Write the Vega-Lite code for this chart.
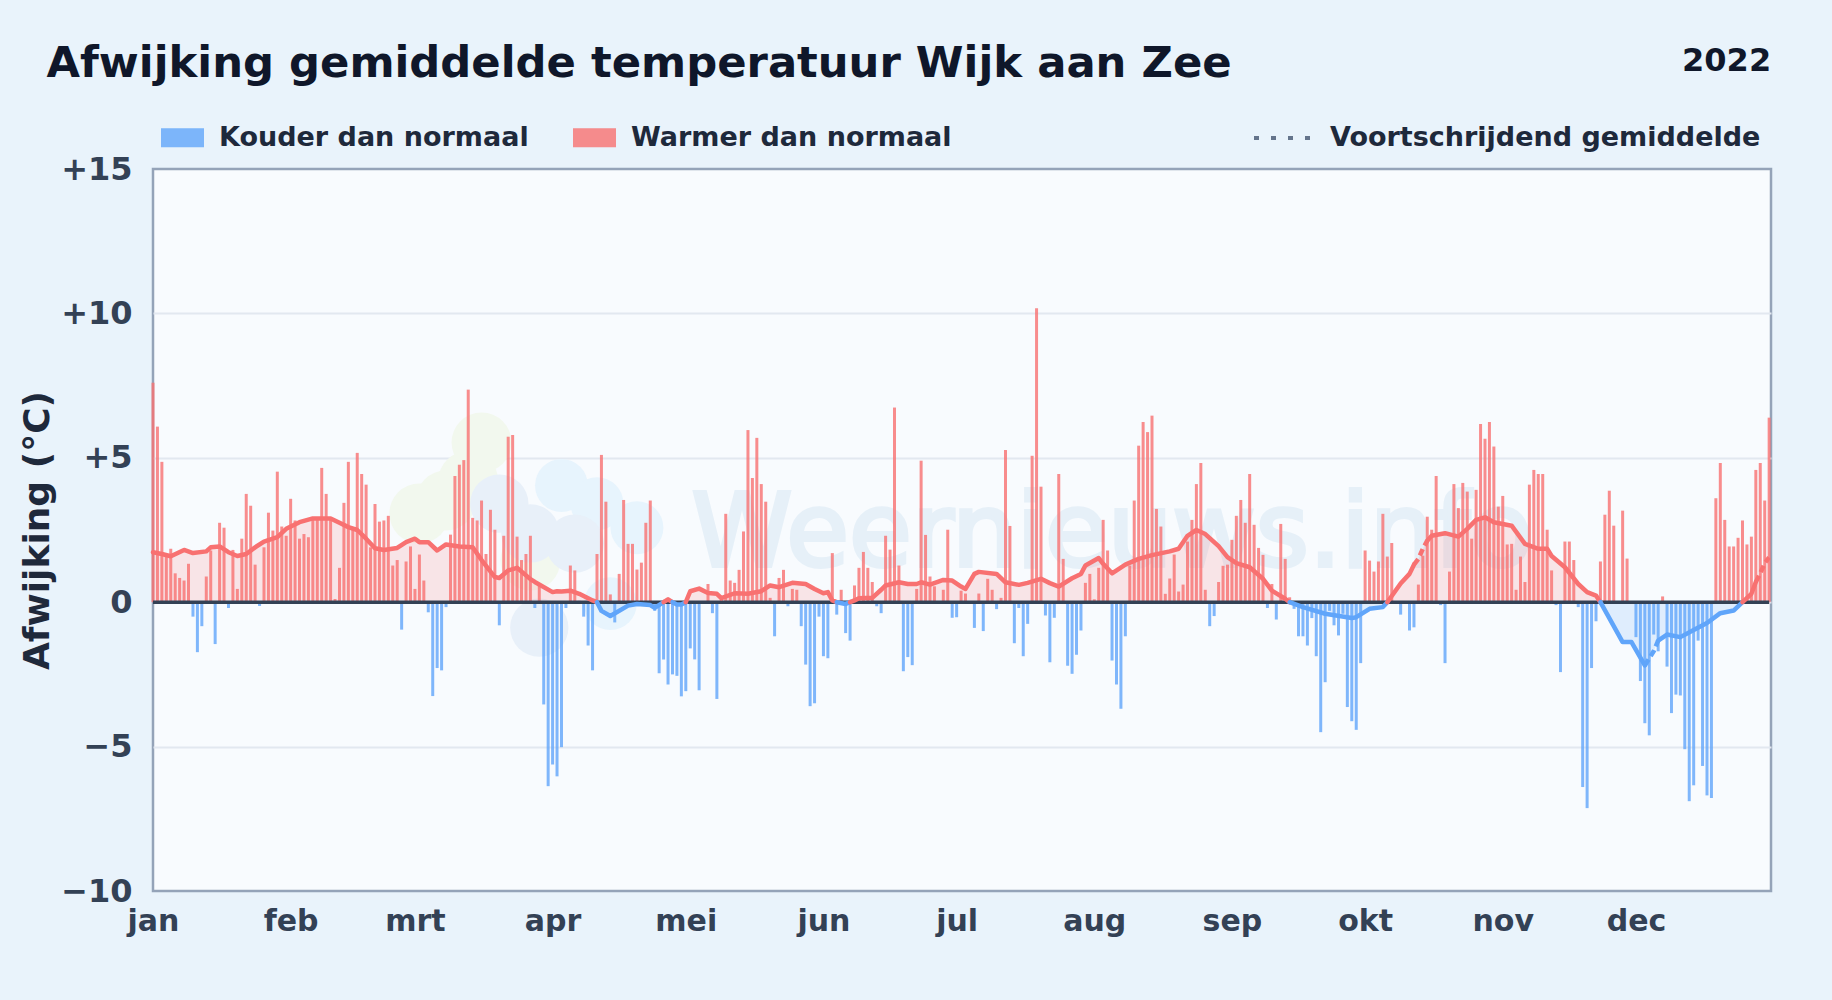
{
"$schema":"https://vega.github.io/schema/vega-lite/v6.json",
"width":1618,"height":722,
"autosize":{"type":"none"},
"padding":{"left":153,"top":169,"right":61,"bottom":109},
"background":"#e9f3fb",
"config":{"font":"DejaVu Sans","view":{"fill":"#f8fbfe","stroke":"#94a3b8","strokeWidth":2.5}},
"title":{"text":"Afwijking gemiddelde temperatuur Wijk aan Zee","anchor":"start","frame":"group","dx":-106.5,"offset":0,"dy":75,"baseline":"alphabetic","fontSize":43.3,"fontWeight":"bold","color":"#0f172a"},
"datasets":{
"dag":[
{"d":"2022-01-01","v":7.6,"s":"warm"},{"d":"2022-01-02","v":6.08,"s":"warm"},{"d":"2022-01-03","v":4.86,"s":"warm"},{"d":"2022-01-04","v":1.67,"s":"warm"},{"d":"2022-01-05","v":1.85,"s":"warm"},{"d":"2022-01-06","v":1.0,"s":"warm"},{"d":"2022-01-07","v":0.84,"s":"warm"},{"d":"2022-01-08","v":0.75,"s":"warm"},{"d":"2022-01-09","v":1.33,"s":"warm"},{"d":"2022-01-10","v":-0.5,"s":"koud"},{"d":"2022-01-11","v":-1.73,"s":"koud"},{"d":"2022-01-12","v":-0.83,"s":"koud"},{"d":"2022-01-13","v":0.89,"s":"warm"},{"d":"2022-01-14","v":1.79,"s":"warm"},{"d":"2022-01-15","v":-1.45,"s":"koud"},{"d":"2022-01-16","v":2.75,"s":"warm"},{"d":"2022-01-17","v":2.58,"s":"warm"},{"d":"2022-01-18","v":-0.2,"s":"koud"},{"d":"2022-01-19","v":1.81,"s":"warm"},{"d":"2022-01-20","v":0.46,"s":"warm"},{"d":"2022-01-21","v":2.2,"s":"warm"},{"d":"2022-01-22","v":3.75,"s":"warm"},{"d":"2022-01-23","v":3.34,"s":"warm"},{"d":"2022-01-24","v":1.3,"s":"warm"},{"d":"2022-01-25","v":-0.13,"s":"koud"},{"d":"2022-01-26","v":1.9,"s":"warm"},{"d":"2022-01-27","v":3.1,"s":"warm"},{"d":"2022-01-28","v":2.48,"s":"warm"},{"d":"2022-01-29","v":4.52,"s":"warm"},{"d":"2022-01-30","v":2.62,"s":"warm"},{"d":"2022-01-31","v":2.3,"s":"warm"},
{"d":"2022-02-01","v":3.58,"s":"warm"},{"d":"2022-02-02","v":2.83,"s":"warm"},{"d":"2022-02-03","v":2.2,"s":"warm"},{"d":"2022-02-04","v":2.36,"s":"warm"},{"d":"2022-02-05","v":2.25,"s":"warm"},{"d":"2022-02-06","v":2.88,"s":"warm"},{"d":"2022-02-07","v":2.85,"s":"warm"},{"d":"2022-02-08","v":4.65,"s":"warm"},{"d":"2022-02-09","v":3.75,"s":"warm"},{"d":"2022-02-10","v":2.9,"s":"warm"},{"d":"2022-02-11","v":0.11,"s":"warm"},{"d":"2022-02-12","v":1.19,"s":"warm"},{"d":"2022-02-13","v":3.44,"s":"warm"},{"d":"2022-02-14","v":4.86,"s":"warm"},{"d":"2022-02-15","v":2.54,"s":"warm"},{"d":"2022-02-16","v":5.17,"s":"warm"},{"d":"2022-02-17","v":4.44,"s":"warm"},{"d":"2022-02-18","v":4.07,"s":"warm"},{"d":"2022-02-19","v":1.9,"s":"warm"},{"d":"2022-02-20","v":3.4,"s":"warm"},{"d":"2022-02-21","v":2.79,"s":"warm"},{"d":"2022-02-22","v":2.83,"s":"warm"},{"d":"2022-02-23","v":2.99,"s":"warm"},{"d":"2022-02-24","v":1.27,"s":"warm"},{"d":"2022-02-25","v":1.46,"s":"warm"},{"d":"2022-02-26","v":-0.95,"s":"koud"},{"d":"2022-02-27","v":1.41,"s":"warm"},{"d":"2022-02-28","v":1.93,"s":"warm"},
{"d":"2022-03-01","v":0.46,"s":"warm"},{"d":"2022-03-02","v":1.65,"s":"warm"},{"d":"2022-03-03","v":0.75,"s":"warm"},{"d":"2022-03-04","v":-0.35,"s":"koud"},{"d":"2022-03-05","v":-3.25,"s":"koud"},{"d":"2022-03-06","v":-2.28,"s":"koud"},{"d":"2022-03-07","v":-2.36,"s":"koud"},{"d":"2022-03-08","v":-0.17,"s":"koud"},{"d":"2022-03-09","v":2.34,"s":"warm"},{"d":"2022-03-10","v":4.37,"s":"warm"},{"d":"2022-03-11","v":4.76,"s":"warm"},{"d":"2022-03-12","v":4.92,"s":"warm"},{"d":"2022-03-13","v":7.36,"s":"warm"},{"d":"2022-03-14","v":2.92,"s":"warm"},{"d":"2022-03-15","v":2.83,"s":"warm"},{"d":"2022-03-16","v":3.52,"s":"warm"},{"d":"2022-03-17","v":1.67,"s":"warm"},{"d":"2022-03-18","v":3.2,"s":"warm"},{"d":"2022-03-19","v":2.51,"s":"warm"},{"d":"2022-03-20","v":-0.8,"s":"koud"},{"d":"2022-03-21","v":2.3,"s":"warm"},{"d":"2022-03-22","v":5.73,"s":"warm"},{"d":"2022-03-23","v":5.79,"s":"warm"},{"d":"2022-03-24","v":2.27,"s":"warm"},{"d":"2022-03-25","v":1.46,"s":"warm"},{"d":"2022-03-26","v":1.67,"s":"warm"},{"d":"2022-03-27","v":2.3,"s":"warm"},{"d":"2022-03-28","v":-0.2,"s":"koud"},{"d":"2022-03-29","v":0.63,"s":"warm"},{"d":"2022-03-30","v":-3.54,"s":"koud"},{"d":"2022-03-31","v":-6.37,"s":"koud"},
{"d":"2022-04-01","v":-5.62,"s":"koud"},{"d":"2022-04-02","v":-6.03,"s":"koud"},{"d":"2022-04-03","v":-5.02,"s":"koud"},{"d":"2022-04-04","v":-0.2,"s":"koud"},{"d":"2022-04-05","v":1.27,"s":"warm"},{"d":"2022-04-06","v":1.1,"s":"warm"},{"d":"2022-04-07","v":0.05,"s":"warm"},{"d":"2022-04-08","v":-0.5,"s":"koud"},{"d":"2022-04-09","v":-1.5,"s":"koud"},{"d":"2022-04-10","v":-2.36,"s":"koud"},{"d":"2022-04-11","v":1.67,"s":"warm"},{"d":"2022-04-12","v":5.1,"s":"warm"},{"d":"2022-04-13","v":3.48,"s":"warm"},{"d":"2022-04-14","v":0.27,"s":"warm"},{"d":"2022-04-15","v":-0.7,"s":"koud"},{"d":"2022-04-16","v":0.98,"s":"warm"},{"d":"2022-04-17","v":3.54,"s":"warm"},{"d":"2022-04-18","v":2.02,"s":"warm"},{"d":"2022-04-19","v":2.02,"s":"warm"},{"d":"2022-04-20","v":1.13,"s":"warm"},{"d":"2022-04-21","v":1.37,"s":"warm"},{"d":"2022-04-22","v":2.75,"s":"warm"},{"d":"2022-04-23","v":3.52,"s":"warm"},{"d":"2022-04-24","v":-0.3,"s":"koud"},{"d":"2022-04-25","v":-2.46,"s":"koud"},{"d":"2022-04-26","v":-1.98,"s":"koud"},{"d":"2022-04-27","v":-2.85,"s":"koud"},{"d":"2022-04-28","v":-2.5,"s":"koud"},{"d":"2022-04-29","v":-2.55,"s":"koud"},{"d":"2022-04-30","v":-3.26,"s":"koud"},
{"d":"2022-05-01","v":-3.08,"s":"koud"},{"d":"2022-05-02","v":-1.6,"s":"koud"},{"d":"2022-05-03","v":-1.98,"s":"koud"},{"d":"2022-05-04","v":-3.05,"s":"koud"},{"d":"2022-05-06","v":0.63,"s":"warm"},{"d":"2022-05-07","v":-0.38,"s":"koud"},{"d":"2022-05-08","v":-3.35,"s":"koud"},{"d":"2022-05-09","v":0.1,"s":"warm"},{"d":"2022-05-10","v":3.06,"s":"warm"},{"d":"2022-05-11","v":0.75,"s":"warm"},{"d":"2022-05-12","v":0.67,"s":"warm"},{"d":"2022-05-13","v":1.12,"s":"warm"},{"d":"2022-05-14","v":2.45,"s":"warm"},{"d":"2022-05-15","v":5.96,"s":"warm"},{"d":"2022-05-16","v":4.3,"s":"warm"},{"d":"2022-05-17","v":5.69,"s":"warm"},{"d":"2022-05-18","v":4.09,"s":"warm"},{"d":"2022-05-19","v":3.48,"s":"warm"},{"d":"2022-05-20","v":0.15,"s":"warm"},{"d":"2022-05-21","v":-1.18,"s":"koud"},{"d":"2022-05-22","v":0.84,"s":"warm"},{"d":"2022-05-23","v":1.12,"s":"warm"},{"d":"2022-05-24","v":-0.14,"s":"koud"},{"d":"2022-05-25","v":0.46,"s":"warm"},{"d":"2022-05-26","v":0.43,"s":"warm"},{"d":"2022-05-27","v":-0.83,"s":"koud"},{"d":"2022-05-28","v":-2.16,"s":"koud"},{"d":"2022-05-29","v":-3.6,"s":"koud"},{"d":"2022-05-30","v":-3.5,"s":"koud"},{"d":"2022-05-31","v":-0.5,"s":"koud"},
{"d":"2022-06-01","v":-1.87,"s":"koud"},{"d":"2022-06-02","v":-1.94,"s":"koud"},{"d":"2022-06-03","v":1.7,"s":"warm"},{"d":"2022-06-04","v":-0.43,"s":"koud"},{"d":"2022-06-05","v":0.43,"s":"warm"},{"d":"2022-06-06","v":-1.07,"s":"koud"},{"d":"2022-06-07","v":-1.33,"s":"koud"},{"d":"2022-06-08","v":0.58,"s":"warm"},{"d":"2022-06-09","v":1.19,"s":"warm"},{"d":"2022-06-10","v":1.74,"s":"warm"},{"d":"2022-06-11","v":1.19,"s":"warm"},{"d":"2022-06-12","v":0.7,"s":"warm"},{"d":"2022-06-13","v":-0.14,"s":"koud"},{"d":"2022-06-14","v":-0.38,"s":"koud"},{"d":"2022-06-15","v":2.3,"s":"warm"},{"d":"2022-06-16","v":1.82,"s":"warm"},{"d":"2022-06-17","v":6.74,"s":"warm"},{"d":"2022-06-18","v":1.27,"s":"warm"},{"d":"2022-06-19","v":-2.39,"s":"koud"},{"d":"2022-06-20","v":-1.9,"s":"koud"},{"d":"2022-06-21","v":-2.18,"s":"koud"},{"d":"2022-06-22","v":0.46,"s":"warm"},{"d":"2022-06-23","v":4.9,"s":"warm"},{"d":"2022-06-24","v":2.33,"s":"warm"},{"d":"2022-06-25","v":0.89,"s":"warm"},{"d":"2022-06-26","v":0.55,"s":"warm"},{"d":"2022-06-28","v":0.43,"s":"warm"},{"d":"2022-06-29","v":2.51,"s":"warm"},{"d":"2022-06-30","v":-0.54,"s":"koud"},
{"d":"2022-07-01","v":-0.52,"s":"koud"},{"d":"2022-07-02","v":0.4,"s":"warm"},{"d":"2022-07-03","v":0.3,"s":"warm"},{"d":"2022-07-05","v":-0.89,"s":"koud"},{"d":"2022-07-06","v":0.3,"s":"warm"},{"d":"2022-07-07","v":-1.0,"s":"koud"},{"d":"2022-07-08","v":0.81,"s":"warm"},{"d":"2022-07-09","v":0.43,"s":"warm"},{"d":"2022-07-10","v":-0.24,"s":"koud"},{"d":"2022-07-11","v":0.15,"s":"warm"},{"d":"2022-07-12","v":5.27,"s":"warm"},{"d":"2022-07-13","v":2.64,"s":"warm"},{"d":"2022-07-14","v":-1.42,"s":"koud"},{"d":"2022-07-15","v":-0.2,"s":"koud"},{"d":"2022-07-16","v":-1.87,"s":"koud"},{"d":"2022-07-17","v":-0.75,"s":"koud"},{"d":"2022-07-18","v":5.07,"s":"warm"},{"d":"2022-07-19","v":10.18,"s":"warm"},{"d":"2022-07-20","v":4.0,"s":"warm"},{"d":"2022-07-21","v":-0.46,"s":"koud"},{"d":"2022-07-22","v":-2.08,"s":"koud"},{"d":"2022-07-23","v":-0.54,"s":"koud"},{"d":"2022-07-24","v":4.44,"s":"warm"},{"d":"2022-07-25","v":1.5,"s":"warm"},{"d":"2022-07-26","v":-2.2,"s":"koud"},{"d":"2022-07-27","v":-2.48,"s":"koud"},{"d":"2022-07-28","v":-1.82,"s":"koud"},{"d":"2022-07-29","v":-0.98,"s":"koud"},{"d":"2022-07-30","v":0.67,"s":"warm"},{"d":"2022-07-31","v":0.98,"s":"warm"},
{"d":"2022-08-01","v":0.1,"s":"warm"},{"d":"2022-08-02","v":1.19,"s":"warm"},{"d":"2022-08-03","v":2.85,"s":"warm"},{"d":"2022-08-04","v":1.79,"s":"warm"},{"d":"2022-08-05","v":-2.02,"s":"koud"},{"d":"2022-08-06","v":-2.85,"s":"koud"},{"d":"2022-08-07","v":-3.69,"s":"koud"},{"d":"2022-08-08","v":-1.18,"s":"koud"},{"d":"2022-08-09","v":1.27,"s":"warm"},{"d":"2022-08-10","v":3.52,"s":"warm"},{"d":"2022-08-11","v":5.42,"s":"warm"},{"d":"2022-08-12","v":6.24,"s":"warm"},{"d":"2022-08-13","v":5.89,"s":"warm"},{"d":"2022-08-14","v":6.46,"s":"warm"},{"d":"2022-08-15","v":3.23,"s":"warm"},{"d":"2022-08-16","v":2.62,"s":"warm"},{"d":"2022-08-17","v":0.29,"s":"warm"},{"d":"2022-08-18","v":0.82,"s":"warm"},{"d":"2022-08-19","v":1.65,"s":"warm"},{"d":"2022-08-20","v":0.37,"s":"warm"},{"d":"2022-08-21","v":0.61,"s":"warm"},{"d":"2022-08-22","v":2.1,"s":"warm"},{"d":"2022-08-23","v":2.85,"s":"warm"},{"d":"2022-08-24","v":4.09,"s":"warm"},{"d":"2022-08-25","v":4.82,"s":"warm"},{"d":"2022-08-26","v":0.43,"s":"warm"},{"d":"2022-08-27","v":-0.83,"s":"koud"},{"d":"2022-08-28","v":-0.48,"s":"koud"},{"d":"2022-08-29","v":0.7,"s":"warm"},{"d":"2022-08-30","v":1.26,"s":"warm"},{"d":"2022-08-31","v":1.3,"s":"warm"},
{"d":"2022-09-01","v":2.16,"s":"warm"},{"d":"2022-09-02","v":2.99,"s":"warm"},{"d":"2022-09-03","v":3.54,"s":"warm"},{"d":"2022-09-04","v":2.75,"s":"warm"},{"d":"2022-09-05","v":4.44,"s":"warm"},{"d":"2022-09-06","v":2.68,"s":"warm"},{"d":"2022-09-07","v":1.88,"s":"warm"},{"d":"2022-09-08","v":1.64,"s":"warm"},{"d":"2022-09-09","v":-0.2,"s":"koud"},{"d":"2022-09-10","v":0.63,"s":"warm"},{"d":"2022-09-11","v":-0.6,"s":"koud"},{"d":"2022-09-12","v":2.71,"s":"warm"},{"d":"2022-09-13","v":1.5,"s":"warm"},{"d":"2022-09-14","v":0.17,"s":"warm"},{"d":"2022-09-15","v":-0.23,"s":"koud"},{"d":"2022-09-16","v":-1.18,"s":"koud"},{"d":"2022-09-17","v":-1.18,"s":"koud"},{"d":"2022-09-18","v":-1.5,"s":"koud"},{"d":"2022-09-19","v":-0.55,"s":"koud"},{"d":"2022-09-20","v":-1.87,"s":"koud"},{"d":"2022-09-21","v":-4.5,"s":"koud"},{"d":"2022-09-22","v":-2.77,"s":"koud"},{"d":"2022-09-23","v":-0.3,"s":"koud"},{"d":"2022-09-24","v":-0.8,"s":"koud"},{"d":"2022-09-25","v":-1.15,"s":"koud"},{"d":"2022-09-26","v":-0.4,"s":"koud"},{"d":"2022-09-27","v":-3.63,"s":"koud"},{"d":"2022-09-28","v":-4.12,"s":"koud"},{"d":"2022-09-29","v":-4.42,"s":"koud"},{"d":"2022-09-30","v":-2.11,"s":"koud"},
{"d":"2022-10-01","v":1.79,"s":"warm"},{"d":"2022-10-02","v":1.44,"s":"warm"},{"d":"2022-10-03","v":1.06,"s":"warm"},{"d":"2022-10-04","v":1.41,"s":"warm"},{"d":"2022-10-05","v":3.06,"s":"warm"},{"d":"2022-10-06","v":1.58,"s":"warm"},{"d":"2022-10-07","v":2.05,"s":"warm"},{"d":"2022-10-09","v":-0.43,"s":"koud"},{"d":"2022-10-11","v":-0.98,"s":"koud"},{"d":"2022-10-12","v":-0.87,"s":"koud"},{"d":"2022-10-13","v":0.61,"s":"warm"},{"d":"2022-10-14","v":1.61,"s":"warm"},{"d":"2022-10-15","v":2.96,"s":"warm"},{"d":"2022-10-16","v":2.51,"s":"warm"},{"d":"2022-10-17","v":4.37,"s":"warm"},{"d":"2022-10-18","v":-0.1,"s":"koud"},{"d":"2022-10-19","v":-2.11,"s":"koud"},{"d":"2022-10-20","v":1.06,"s":"warm"},{"d":"2022-10-21","v":4.09,"s":"warm"},{"d":"2022-10-22","v":3.26,"s":"warm"},{"d":"2022-10-23","v":4.13,"s":"warm"},{"d":"2022-10-24","v":3.83,"s":"warm"},{"d":"2022-10-25","v":2.2,"s":"warm"},{"d":"2022-10-26","v":3.89,"s":"warm"},{"d":"2022-10-27","v":6.17,"s":"warm"},{"d":"2022-10-28","v":5.66,"s":"warm"},{"d":"2022-10-29","v":6.24,"s":"warm"},{"d":"2022-10-30","v":5.39,"s":"warm"},{"d":"2022-10-31","v":3.31,"s":"warm"},
{"d":"2022-11-01","v":3.68,"s":"warm"},{"d":"2022-11-02","v":2.0,"s":"warm"},{"d":"2022-11-03","v":2.02,"s":"warm"},{"d":"2022-11-04","v":0.43,"s":"warm"},{"d":"2022-11-05","v":1.58,"s":"warm"},{"d":"2022-11-06","v":0.7,"s":"warm"},{"d":"2022-11-07","v":4.07,"s":"warm"},{"d":"2022-11-08","v":4.58,"s":"warm"},{"d":"2022-11-09","v":4.44,"s":"warm"},{"d":"2022-11-10","v":4.44,"s":"warm"},{"d":"2022-11-11","v":2.51,"s":"warm"},{"d":"2022-11-12","v":1.1,"s":"warm"},{"d":"2022-11-13","v":-0.1,"s":"koud"},{"d":"2022-11-14","v":-2.42,"s":"koud"},{"d":"2022-11-15","v":2.1,"s":"warm"},{"d":"2022-11-16","v":2.1,"s":"warm"},{"d":"2022-11-17","v":1.46,"s":"warm"},{"d":"2022-11-18","v":-0.17,"s":"koud"},{"d":"2022-11-19","v":-6.4,"s":"koud"},{"d":"2022-11-20","v":-7.13,"s":"koud"},{"d":"2022-11-21","v":-2.28,"s":"koud"},{"d":"2022-11-22","v":-0.66,"s":"koud"},{"d":"2022-11-23","v":1.41,"s":"warm"},{"d":"2022-11-24","v":3.03,"s":"warm"},{"d":"2022-11-25","v":3.86,"s":"warm"},{"d":"2022-11-26","v":2.65,"s":"warm"},{"d":"2022-11-28","v":3.17,"s":"warm"},{"d":"2022-11-29","v":1.51,"s":"warm"},
{"d":"2022-12-01","v":-1.21,"s":"koud"},{"d":"2022-12-02","v":-2.73,"s":"koud"},{"d":"2022-12-03","v":-4.19,"s":"koud"},{"d":"2022-12-04","v":-4.61,"s":"koud"},{"d":"2022-12-05","v":-1.12,"s":"koud"},{"d":"2022-12-06","v":-1.7,"s":"koud"},{"d":"2022-12-07","v":0.2,"s":"warm"},{"d":"2022-12-08","v":-2.23,"s":"koud"},{"d":"2022-12-09","v":-3.84,"s":"koud"},{"d":"2022-12-10","v":-3.2,"s":"koud"},{"d":"2022-12-11","v":-3.23,"s":"koud"},{"d":"2022-12-12","v":-5.09,"s":"koud"},{"d":"2022-12-13","v":-6.89,"s":"koud"},{"d":"2022-12-14","v":-6.34,"s":"koud"},{"d":"2022-12-15","v":-1.33,"s":"koud"},{"d":"2022-12-16","v":-5.67,"s":"koud"},{"d":"2022-12-17","v":-6.69,"s":"koud"},{"d":"2022-12-18","v":-6.78,"s":"koud"},{"d":"2022-12-19","v":3.6,"s":"warm"},{"d":"2022-12-20","v":4.82,"s":"warm"},{"d":"2022-12-21","v":2.85,"s":"warm"},{"d":"2022-12-22","v":1.93,"s":"warm"},{"d":"2022-12-23","v":1.93,"s":"warm"},{"d":"2022-12-24","v":2.23,"s":"warm"},{"d":"2022-12-25","v":2.83,"s":"warm"},{"d":"2022-12-26","v":2.0,"s":"warm"},{"d":"2022-12-27","v":2.27,"s":"warm"},{"d":"2022-12-28","v":4.58,"s":"warm"},{"d":"2022-12-29","v":4.82,"s":"warm"},{"d":"2022-12-30","v":3.52,"s":"warm"},{"d":"2022-12-31","v":6.39,"s":"warm"}
],
"gem":[
{"d":"2022-01-01","g":1.73,"s":"warm","seg":1,"st":"vol"},{"d":"2022-01-03","g":1.67,"s":"warm","seg":1,"st":"vol"},{"d":"2022-01-05","g":1.59,"s":"warm","seg":1,"st":"vol"},{"d":"2022-01-08","g":1.81,"s":"warm","seg":1,"st":"vol"},{"d":"2022-01-10","g":1.7,"s":"warm","seg":1,"st":"vol"},{"d":"2022-01-13","g":1.76,"s":"warm","seg":1,"st":"vol"},{"d":"2022-01-14","g":1.9,"s":"warm","seg":1,"st":"vol"},{"d":"2022-01-16","g":1.93,"s":"warm","seg":1,"st":"vol"},{"d":"2022-01-18","g":1.73,"s":"warm","seg":1,"st":"vol"},{"d":"2022-01-20","g":1.6,"s":"warm","seg":1,"st":"vol"},{"d":"2022-01-22","g":1.67,"s":"warm","seg":1,"st":"vol"},{"d":"2022-01-24","g":1.9,"s":"warm","seg":1,"st":"vol"},{"d":"2022-01-26","g":2.1,"s":"warm","seg":1,"st":"vol"},{"d":"2022-01-29","g":2.25,"s":"warm","seg":1,"st":"vol"},{"d":"2022-01-31","g":2.54,"s":"warm","seg":1,"st":"vol"},{"d":"2022-02-03","g":2.77,"s":"warm","seg":1,"st":"vol"},{"d":"2022-02-06","g":2.9,"s":"warm","seg":1,"st":"vol"},{"d":"2022-02-10","g":2.9,"s":"warm","seg":1,"st":"vol"},{"d":"2022-02-12","g":2.75,"s":"warm","seg":1,"st":"vol"},{"d":"2022-02-14","g":2.6,"s":"warm","seg":1,"st":"vol"},{"d":"2022-02-16","g":2.5,"s":"warm","seg":1,"st":"vol"},{"d":"2022-02-18","g":2.2,"s":"warm","seg":1,"st":"vol"},{"d":"2022-02-20","g":1.87,"s":"warm","seg":1,"st":"vol"},{"d":"2022-02-22","g":1.81,"s":"warm","seg":1,"st":"vol"},{"d":"2022-02-25","g":1.88,"s":"warm","seg":1,"st":"vol"},{"d":"2022-02-27","g":2.08,"s":"warm","seg":1,"st":"vol"},{"d":"2022-03-01","g":2.2,"s":"warm","seg":1,"st":"vol"},{"d":"2022-03-02","g":2.08,"s":"warm","seg":1,"st":"vol"},{"d":"2022-03-04","g":2.08,"s":"warm","seg":1,"st":"vol"},{"d":"2022-03-06","g":1.79,"s":"warm","seg":1,"st":"vol"},{"d":"2022-03-08","g":2.0,"s":"warm","seg":1,"st":"vol"},{"d":"2022-03-11","g":1.93,"s":"warm","seg":1,"st":"vol"},{"d":"2022-03-14","g":1.9,"s":"warm","seg":1,"st":"vol"},{"d":"2022-03-16","g":1.46,"s":"warm","seg":1,"st":"vol"},{"d":"2022-03-19","g":0.87,"s":"warm","seg":1,"st":"vol"},{"d":"2022-03-20","g":0.84,"s":"warm","seg":1,"st":"vol"},{"d":"2022-03-22","g":1.1,"s":"warm","seg":1,"st":"vol"},{"d":"2022-03-24","g":1.19,"s":"warm","seg":1,"st":"vol"},{"d":"2022-03-27","g":0.8,"s":"warm","seg":1,"st":"vol"},{"d":"2022-03-28","g":0.7,"s":"warm","seg":1,"st":"vol"},{"d":"2022-04-01","g":0.35,"s":"warm","seg":1,"st":"vol"},{"d":"2022-04-02","g":0.38,"s":"warm","seg":1,"st":"vol"},{"d":"2022-04-03","g":0.37,"s":"warm","seg":1,"st":"vol"},{"d":"2022-04-05","g":0.4,"s":"warm","seg":1,"st":"vol"},{"d":"2022-04-07","g":0.29,"s":"warm","seg":1,"st":"vol"},{"d":"2022-04-10","g":0.06,"s":"warm","seg":1,"st":"vol"},{"d":"2022-04-11","g":0,"s":"warm","seg":1,"st":"vol"},
{"d":"2022-04-11","g":0,"s":"koud","seg":2,"st":"vol"},{"d":"2022-04-12","g":-0.3,"s":"koud","seg":2,"st":"vol"},{"d":"2022-04-14","g":-0.48,"s":"koud","seg":2,"st":"vol"},{"d":"2022-04-18","g":-0.12,"s":"koud","seg":2,"st":"vol"},{"d":"2022-04-20","g":-0.06,"s":"koud","seg":2,"st":"vol"},{"d":"2022-04-23","g":-0.1,"s":"koud","seg":2,"st":"vol"},{"d":"2022-04-24","g":-0.2,"s":"koud","seg":2,"st":"vol"},{"d":"2022-04-26","g":0,"s":"koud","seg":2,"st":"vol"},
{"d":"2022-04-26","g":0,"s":"warm","seg":3,"st":"vol"},{"d":"2022-04-27","g":0.1,"s":"warm","seg":3,"st":"vol"},{"d":"2022-04-28","g":0,"s":"warm","seg":3,"st":"vol"},
{"d":"2022-04-28","g":0,"s":"koud","seg":4,"st":"vol"},{"d":"2022-04-29","g":-0.08,"s":"koud","seg":4,"st":"vol"},{"d":"2022-04-30","g":-0.08,"s":"koud","seg":4,"st":"vol"},{"d":"2022-05-01","g":0,"s":"koud","seg":4,"st":"vol"},
{"d":"2022-05-01","g":0,"s":"warm","seg":5,"st":"vol"},{"d":"2022-05-02","g":0.38,"s":"warm","seg":5,"st":"vol"},{"d":"2022-05-04","g":0.47,"s":"warm","seg":5,"st":"vol"},{"d":"2022-05-06","g":0.32,"s":"warm","seg":5,"st":"vol"},{"d":"2022-05-08","g":0.29,"s":"warm","seg":5,"st":"vol"},{"d":"2022-05-09","g":0.14,"s":"warm","seg":5,"st":"vol"},{"d":"2022-05-12","g":0.31,"s":"warm","seg":5,"st":"vol"},{"d":"2022-05-15","g":0.29,"s":"warm","seg":5,"st":"vol"},{"d":"2022-05-18","g":0.38,"s":"warm","seg":5,"st":"vol"},{"d":"2022-05-20","g":0.58,"s":"warm","seg":5,"st":"vol"},{"d":"2022-05-22","g":0.52,"s":"warm","seg":5,"st":"vol"},{"d":"2022-05-25","g":0.67,"s":"warm","seg":5,"st":"vol"},{"d":"2022-05-28","g":0.63,"s":"warm","seg":5,"st":"vol"},{"d":"2022-05-30","g":0.46,"s":"warm","seg":5,"st":"vol"},{"d":"2022-06-01","g":0.31,"s":"warm","seg":5,"st":"vol"},{"d":"2022-06-02","g":0.35,"s":"warm","seg":5,"st":"vol"},{"d":"2022-06-03","g":0.06,"s":"warm","seg":5,"st":"vol"},{"d":"2022-06-04","g":0,"s":"warm","seg":5,"st":"vol"},
{"d":"2022-06-04","g":0,"s":"koud","seg":6,"st":"vol"},{"d":"2022-06-06","g":-0.06,"s":"koud","seg":6,"st":"vol"},{"d":"2022-06-07","g":0,"s":"koud","seg":6,"st":"vol"},
{"d":"2022-06-07","g":0,"s":"warm","seg":7,"st":"vol"},{"d":"2022-06-08","g":0.06,"s":"warm","seg":7,"st":"vol"},{"d":"2022-06-09","g":0.14,"s":"warm","seg":7,"st":"vol"},{"d":"2022-06-12","g":0.15,"s":"warm","seg":7,"st":"vol"},{"d":"2022-06-14","g":0.43,"s":"warm","seg":7,"st":"vol"},{"d":"2022-06-15","g":0.58,"s":"warm","seg":7,"st":"vol"},{"d":"2022-06-18","g":0.69,"s":"warm","seg":7,"st":"vol"},{"d":"2022-06-20","g":0.63,"s":"warm","seg":7,"st":"vol"},{"d":"2022-06-22","g":0.63,"s":"warm","seg":7,"st":"vol"},{"d":"2022-06-23","g":0.69,"s":"warm","seg":7,"st":"vol"},{"d":"2022-06-25","g":0.61,"s":"warm","seg":7,"st":"vol"},{"d":"2022-06-28","g":0.77,"s":"warm","seg":7,"st":"vol"},{"d":"2022-06-30","g":0.75,"s":"warm","seg":7,"st":"vol"},{"d":"2022-07-02","g":0.54,"s":"warm","seg":7,"st":"vol"},{"d":"2022-07-03","g":0.46,"s":"warm","seg":7,"st":"vol"},{"d":"2022-07-05","g":0.98,"s":"warm","seg":7,"st":"vol"},{"d":"2022-07-06","g":1.05,"s":"warm","seg":7,"st":"vol"},{"d":"2022-07-10","g":0.98,"s":"warm","seg":7,"st":"vol"},{"d":"2022-07-12","g":0.69,"s":"warm","seg":7,"st":"vol"},{"d":"2022-07-15","g":0.6,"s":"warm","seg":7,"st":"vol"},{"d":"2022-07-17","g":0.67,"s":"warm","seg":7,"st":"vol"},{"d":"2022-07-20","g":0.81,"s":"warm","seg":7,"st":"vol"},{"d":"2022-07-22","g":0.66,"s":"warm","seg":7,"st":"vol"},{"d":"2022-07-24","g":0.54,"s":"warm","seg":7,"st":"vol"},{"d":"2022-07-27","g":0.83,"s":"warm","seg":7,"st":"vol"},{"d":"2022-07-29","g":0.98,"s":"warm","seg":7,"st":"vol"},{"d":"2022-07-30","g":1.27,"s":"warm","seg":7,"st":"vol"},{"d":"2022-08-02","g":1.53,"s":"warm","seg":7,"st":"vol"},{"d":"2022-08-03","g":1.33,"s":"warm","seg":7,"st":"vol"},{"d":"2022-08-05","g":1.0,"s":"warm","seg":7,"st":"vol"},{"d":"2022-08-08","g":1.3,"s":"warm","seg":7,"st":"vol"},{"d":"2022-08-11","g":1.5,"s":"warm","seg":7,"st":"vol"},{"d":"2022-08-14","g":1.63,"s":"warm","seg":7,"st":"vol"},{"d":"2022-08-18","g":1.76,"s":"warm","seg":7,"st":"vol"},{"d":"2022-08-20","g":1.85,"s":"warm","seg":7,"st":"vol"},{"d":"2022-08-22","g":2.3,"s":"warm","seg":7,"st":"vol"},{"d":"2022-08-24","g":2.5,"s":"warm","seg":7,"st":"vol"},{"d":"2022-08-26","g":2.36,"s":"warm","seg":7,"st":"vol"},{"d":"2022-08-29","g":1.94,"s":"warm","seg":7,"st":"vol"},{"d":"2022-08-31","g":1.56,"s":"warm","seg":7,"st":"vol"},{"d":"2022-09-02","g":1.35,"s":"warm","seg":7,"st":"vol"},{"d":"2022-09-05","g":1.21,"s":"warm","seg":7,"st":"vol"},{"d":"2022-09-08","g":0.81,"s":"warm","seg":7,"st":"vol"},{"d":"2022-09-10","g":0.4,"s":"warm","seg":7,"st":"vol"},{"d":"2022-09-13","g":0.12,"s":"warm","seg":7,"st":"vol"},{"d":"2022-09-14","g":0,"s":"warm","seg":7,"st":"vol"},
{"d":"2022-09-14","g":0,"s":"koud","seg":8,"st":"vol"},{"d":"2022-09-17","g":-0.17,"s":"koud","seg":8,"st":"vol"},{"d":"2022-09-22","g":-0.4,"s":"koud","seg":8,"st":"vol"},{"d":"2022-09-28","g":-0.55,"s":"koud","seg":8,"st":"vol"},{"d":"2022-09-29","g":-0.52,"s":"koud","seg":8,"st":"vol"},{"d":"2022-10-02","g":-0.23,"s":"koud","seg":8,"st":"vol"},{"d":"2022-10-05","g":-0.17,"s":"koud","seg":8,"st":"vol"},{"d":"2022-10-06","g":0,"s":"koud","seg":8,"st":"vol"},
{"d":"2022-10-06","g":0,"s":"warm","seg":9,"st":"vol"},{"d":"2022-10-09","g":0.65,"s":"warm","seg":9,"st":"vol"},{"d":"2022-10-11","g":0.98,"s":"warm","seg":9,"st":"vol"},{"d":"2022-10-12","g":1.3,"s":"warm","seg":9,"st":"vol"},
{"d":"2022-10-12","g":1.3,"s":"warm","seg":10,"st":"streep","l":"Voortschrijdend gemiddelde"},{"d":"2022-10-13","g":1.5,"s":"warm","seg":10,"st":"streep","l":"Voortschrijdend gemiddelde"},{"d":"2022-10-14","g":1.85,"s":"warm","seg":10,"st":"streep","l":"Voortschrijdend gemiddelde"},{"d":"2022-10-15","g":2.13,"s":"warm","seg":10,"st":"streep","l":"Voortschrijdend gemiddelde"},
{"d":"2022-10-15","g":2.13,"s":"warm","seg":11,"st":"vol"},{"d":"2022-10-16","g":2.3,"s":"warm","seg":11,"st":"vol"},{"d":"2022-10-19","g":2.39,"s":"warm","seg":11,"st":"vol"},{"d":"2022-10-22","g":2.27,"s":"warm","seg":11,"st":"vol"},{"d":"2022-10-24","g":2.54,"s":"warm","seg":11,"st":"vol"},{"d":"2022-10-26","g":2.85,"s":"warm","seg":11,"st":"vol"},{"d":"2022-10-28","g":2.94,"s":"warm","seg":11,"st":"vol"},{"d":"2022-10-30","g":2.77,"s":"warm","seg":11,"st":"vol"},{"d":"2022-11-03","g":2.65,"s":"warm","seg":11,"st":"vol"},{"d":"2022-11-06","g":2.02,"s":"warm","seg":11,"st":"vol"},{"d":"2022-11-09","g":1.85,"s":"warm","seg":11,"st":"vol"},{"d":"2022-11-11","g":1.85,"s":"warm","seg":11,"st":"vol"},{"d":"2022-11-12","g":1.6,"s":"warm","seg":11,"st":"vol"},{"d":"2022-11-15","g":1.21,"s":"warm","seg":11,"st":"vol"},{"d":"2022-11-18","g":0.63,"s":"warm","seg":11,"st":"vol"},{"d":"2022-11-20","g":0.35,"s":"warm","seg":11,"st":"vol"},{"d":"2022-11-22","g":0.23,"s":"warm","seg":11,"st":"vol"},{"d":"2022-11-23","g":0,"s":"warm","seg":11,"st":"vol"},
{"d":"2022-11-23","g":0,"s":"koud","seg":12,"st":"vol"},{"d":"2022-11-28","g":-1.38,"s":"koud","seg":12,"st":"vol"},{"d":"2022-11-30","g":-1.38,"s":"koud","seg":12,"st":"vol"},{"d":"2022-12-03","g":-2.19,"s":"koud","seg":12,"st":"vol"},
{"d":"2022-12-03","g":-2.19,"s":"koud","seg":13,"st":"streep","l":"Voortschrijdend gemiddelde"},{"d":"2022-12-05","g":-1.7,"s":"koud","seg":13,"st":"streep","l":"Voortschrijdend gemiddelde"},{"d":"2022-12-06","g":-1.33,"s":"koud","seg":13,"st":"streep","l":"Voortschrijdend gemiddelde"},
{"d":"2022-12-06","g":-1.33,"s":"koud","seg":14,"st":"vol"},{"d":"2022-12-08","g":-1.12,"s":"koud","seg":14,"st":"vol"},{"d":"2022-12-11","g":-1.21,"s":"koud","seg":14,"st":"vol"},{"d":"2022-12-14","g":-0.96,"s":"koud","seg":14,"st":"vol"},{"d":"2022-12-17","g":-0.72,"s":"koud","seg":14,"st":"vol"},{"d":"2022-12-20","g":-0.38,"s":"koud","seg":14,"st":"vol"},{"d":"2022-12-23","g":-0.29,"s":"koud","seg":14,"st":"vol"},{"d":"2022-12-25","g":0,"s":"koud","seg":14,"st":"vol"},
{"d":"2022-12-25","g":0,"s":"warm","seg":15,"st":"vol"},{"d":"2022-12-27","g":0.29,"s":"warm","seg":15,"st":"vol"},{"d":"2022-12-28","g":0.7,"s":"warm","seg":15,"st":"vol"},
{"d":"2022-12-28","g":0.7,"s":"warm","seg":16,"st":"streep","l":"Voortschrijdend gemiddelde"},{"d":"2022-12-29","g":1.0,"s":"warm","seg":16,"st":"streep","l":"Voortschrijdend gemiddelde"},{"d":"2022-12-30","g":1.35,"s":"warm","seg":16,"st":"streep","l":"Voortschrijdend gemiddelde"},{"d":"2022-12-31","g":1.55,"s":"warm","seg":16,"st":"streep","l":"Voortschrijdend gemiddelde"}
]
},
"encoding":{
"x":{"field":"d","type":"temporal","scale":{"type":"utc","padding":0,"domain":["2022-01-01T00:00:00Z","2022-12-31T10:00:00Z"]},"axis":{"title":null,"grid":false,"domain":false,"ticks":false,"tickCount":"month","labelExpr":"['jan','feb','mrt','apr','mei','jun','jul','aug','sep','okt','nov','dec'][utcmonth(datum.value)]","labelFontSize":30,"labelFontWeight":"bold","labelColor":"#334155","labelPadding":15,"labelAlign":"center","labelFlush":false,"labelOverlap":false}},
"y":{"field":"v","type":"quantitative","scale":{"domain":[-10,15],"nice":false},"axis":{"title":"Afwijking (°C)","titleFontSize":36,"titleFontWeight":"bold","titleColor":"#1e293b","titleX":-97,"titlePadding":0,"values":[-10,-5,0,5,10,15],"grid":true,"gridColor":{"condition":{"test":"datum.value==15||datum.value==-10","value":"transparent"},"value":"#e2e8f0"},"gridWidth":2,"domain":false,"ticks":false,"labelFontSize":32,"labelFontWeight":"bold","labelColor":"#334155","labelPadding":21,"labelExpr":"datum.value>0?'+'+datum.value:(datum.value<0?'−'+abs(datum.value):'0')"}}
},
"layer":[
{"data":{"values":[{"d":"2022-03-16","v":5.53},{"d":"2022-03-02","v":3.07},{"d":"2022-03-08","v":3.52},{"d":"2022-03-13","v":4.2},{"d":"2022-03-27","v":1.44}]},"mark":{"type":"point","filled":true,"size":3600,"color":"#f2f8ee","opacity":1}},
{"data":{"values":[{"d":"2022-04-03","v":4.04},{"d":"2022-04-20","v":2.58},{"d":"2022-04-14","v":-0.05},{"d":"2022-04-11","v":3.41}]},"mark":{"type":"point","filled":true,"size":2800,"color":"#e7f4fd","opacity":1}},
{"data":{"values":[{"d":"2022-03-20","v":3.41},{"d":"2022-04-06","v":2.03},{"d":"2022-03-27","v":2.38},{"d":"2022-03-29","v":-0.88}]},"mark":{"type":"point","filled":true,"size":3400,"color":"#e8f0f9","opacity":1}},
{"data":{"values":[{"d":"2022-08-05","v":1.27,"t":"Weernieuws.info"}]},"mark":{"type":"text","font":"DejaVu Sans","fontWeight":"normal","fontSize":102,"align":"center","baseline":"alphabetic","color":"#e6f0f8","stroke":"#e6f0f8","strokeWidth":4},"encoding":{"text":{"field":"t"}}},
{"data":{"name":"gem"},"mark":{"type":"area","opacity":0.16},"encoding":{"y":{"field":"g","type":"quantitative"},"y2":{"datum":0},"detail":{"field":"seg"},"color":{"field":"s","type":"nominal","scale":{"domain":["koud","warm"],"range":["#60a5fa","#f87171"]},"legend":{"orient":"none","direction":"horizontal","legendX":8,"legendY":-53,"title":null,"symbolType":"M-1,-0.44H1V0.44H-1Z","symbolSize":1849,"symbolStrokeWidth":0,"symbolOpacity":0.8,"labelFontSize":27,"labelFontWeight":"bold","labelColor":"#1e293b","labelOffset":15,"columnPadding":44,"labelLimit":500,"labelExpr":"datum.value=='koud'?'Kouder dan normaal':'Warmer dan normaal'"}}}},
{"data":{"name":"dag"},"mark":{"type":"bar","width":3,"opacity":0.8},"encoding":{"y":{"field":"v","type":"quantitative","stack":null},"color":{"field":"s","type":"nominal"}}},
{"data":{"values":[{"d":"2022-01-01","e":"2022-12-31","v":0}]},"mark":{"type":"rule","color":"#334155","strokeWidth":3.5},"encoding":{"x2":{"field":"e"}}},
{"data":{"name":"gem"},"transform":[{"filter":"datum.st=='vol'"}],"mark":{"type":"line","strokeWidth":4.5,"strokeJoin":"round","strokeCap":"round"},"encoding":{"y":{"field":"g","type":"quantitative"},"detail":{"field":"seg"},"color":{"field":"s","type":"nominal"}}},
{"data":{"name":"gem"},"transform":[{"filter":"datum.st=='streep'"}],"mark":{"type":"line","strokeWidth":4.5,"strokeDash":[7,4]},"encoding":{"y":{"field":"g","type":"quantitative"},"detail":{"field":"seg"},"color":{"field":"s","type":"nominal"}}},
{"data":{"name":"gem"},"transform":[{"filter":"datum.st=='streep'"}],"mark":{"type":"line","strokeWidth":4,"opacity":0},"encoding":{"y":{"field":"g","type":"quantitative"},"detail":{"field":"seg"},"strokeDash":{"field":"l","type":"nominal","scale":{"domain":["Voortschrijdend gemiddelde"],"range":[[5,12]]},"legend":{"orient":"none","legendX":1099,"legendY":-62,"title":null,"symbolType":"stroke","symbolSize":3364,"symbolStrokeWidth":4,"symbolStrokeColor":"#64748b","symbolOpacity":1,"labelFontSize":27,"labelFontWeight":"bold","labelColor":"#1e293b","labelOffset":16,"labelLimit":600}}}},
{"data":{"values":[{"d":"2022-12-31","v":18.4,"t":"2022"}]},"mark":{"type":"text","fontSize":32,"fontWeight":"bold","align":"right","baseline":"alphabetic","dx":2,"color":"#0f172a"},"encoding":{"text":{"field":"t"}}}
]
}
